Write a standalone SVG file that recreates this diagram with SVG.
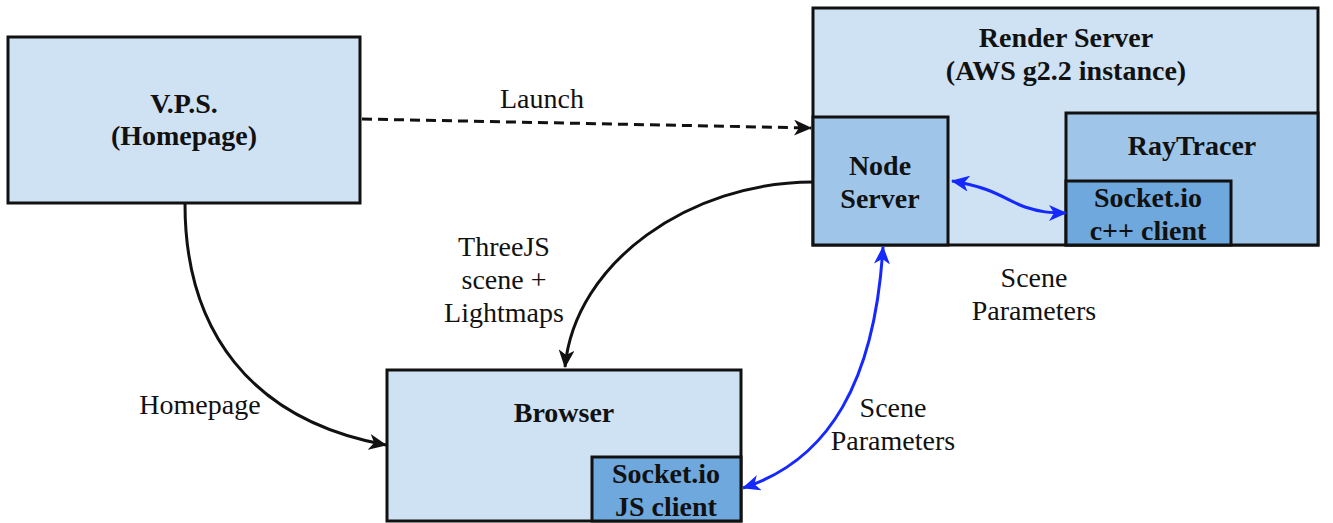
<svg xmlns="http://www.w3.org/2000/svg" width="1333" height="523" viewBox="0 0 1333 523">
<style>
.l1{fill:#cfe2f3;stroke:#111;stroke-width:3}
.l2{fill:#9fc5e8;stroke:#111;stroke-width:3}
.l3{fill:#6fa8dc;stroke:#111;stroke-width:3}
.b{font-family:"Liberation Serif","Times New Roman",serif;font-weight:bold;font-size:28px;fill:#111;text-anchor:middle}
.t{font-family:"Liberation Serif","Times New Roman",serif;font-size:28px;fill:#111;text-anchor:middle}
.k{fill:none;stroke:#111;stroke-width:3}
.u{fill:none;stroke:#1428ff;stroke-width:3}
</style>
<defs>
<marker id="ak" viewBox="0 0 18 16" refX="17" refY="8" markerWidth="18" markerHeight="16" markerUnits="userSpaceOnUse" orient="auto-start-reverse"><path d="M0,0 L18,8 L0,16 L5,8 z" fill="#111"/></marker>
<marker id="ab" viewBox="0 0 18 16" refX="17" refY="8" markerWidth="18" markerHeight="16" markerUnits="userSpaceOnUse" orient="auto-start-reverse"><path d="M0,0 L18,8 L0,16 L5,8 z" fill="#1428ff"/></marker>
</defs>
<g id="vps">
<rect class="l1" x="8" y="37" width="352" height="166"/>
<text class="b" x="184" y="113">V.P.S.</text>
<text class="b" x="184" y="145">(Homepage)</text>
</g>
<g id="render-server">
<rect class="l1" x="813" y="8" width="505" height="237"/>
<text class="b" x="1066" y="47">Render Server</text>
<text class="b" x="1066" y="80">(AWS g2.2 instance)</text>
</g>
<g id="node-server">
<rect class="l2" x="813" y="117" width="135" height="128"/>
<text class="b" x="880" y="175">Node</text>
<text class="b" x="880" y="208">Server</text>
</g>
<g id="raytracer">
<rect class="l2" x="1066" y="113" width="252" height="132"/>
<text class="b" x="1192" y="155">RayTracer</text>
</g>
<g id="socket-cpp">
<rect class="l3" x="1066" y="181" width="165" height="64"/>
<text class="b" x="1148" y="207">Socket.io</text>
<text class="b" x="1148" y="240">c++ client</text>
</g>
<g id="browser">
<rect class="l1" x="387" y="370" width="354" height="151"/>
<text class="b" x="564" y="422">Browser</text>
</g>
<g id="socket-js">
<rect class="l3" x="592" y="457" width="149" height="64"/>
<text class="b" x="666" y="483">Socket.io</text>
<text class="b" x="666" y="516">JS client</text>
</g>
<g id="connectors">
<path class="k" d="M362,119 L811,128" stroke-dasharray="10 6" marker-end="url(#ak)"/>
<path class="k" d="M813,182 C690,182 575,262 565,367" marker-end="url(#ak)"/>
<path class="k" d="M185,204 C185,330 250,420 386,445" marker-end="url(#ak)"/>
<path class="u" d="M952,181 C995,188 1005,200 1025,207 C1040,212 1050,213 1066,213" marker-start="url(#ab)" marker-end="url(#ab)"/>
<path class="u" d="M883,247 C875,380 830,460 743,488" marker-start="url(#ab)" marker-end="url(#ab)"/>
<text class="t" x="542" y="108">Launch</text>
<text class="t" x="504" y="256">ThreeJS</text>
<text class="t" x="504" y="289">scene +</text>
<text class="t" x="504" y="322">Lightmaps</text>
<text class="t" x="200" y="414">Homepage</text>
<text class="t" x="1034" y="287">Scene</text>
<text class="t" x="1034" y="320">Parameters</text>
<text class="t" x="893" y="417">Scene</text>
<text class="t" x="893" y="450">Parameters</text>
</g>
</svg>
